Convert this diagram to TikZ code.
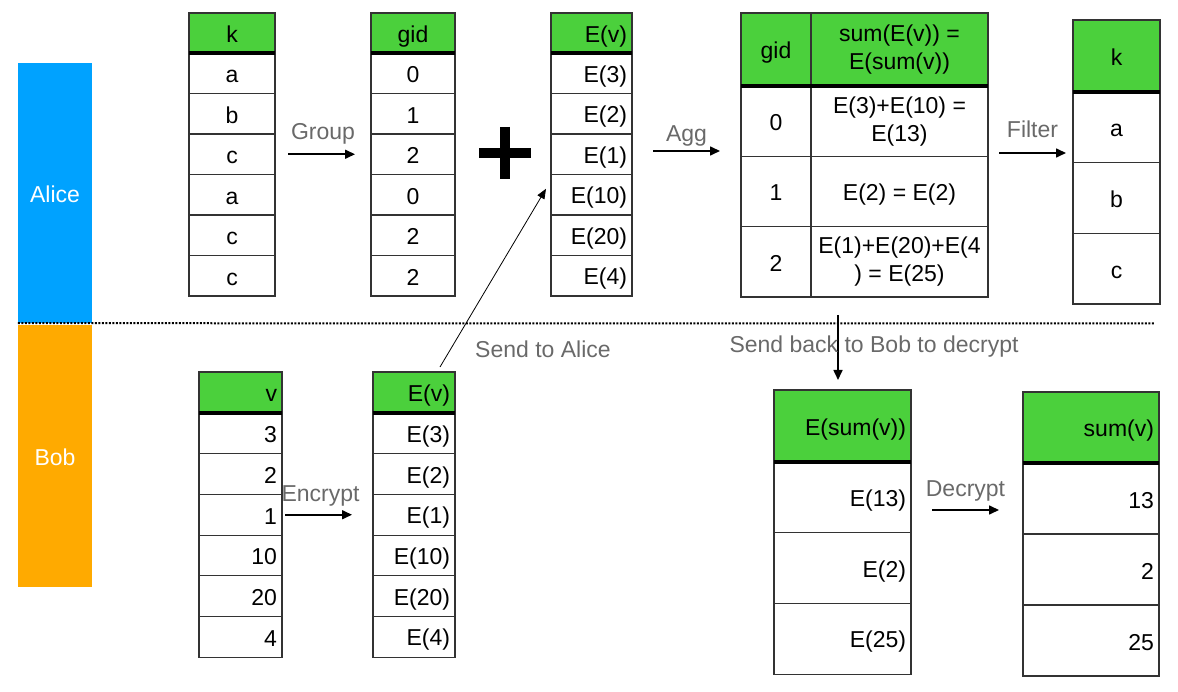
\documentclass[tikz,border=0pt]{standalone}
\usepackage{fontspec}
\setmainfont{Liberation Sans}
\usetikzlibrary{positioning,arrows.meta}
\definecolor{alicebar}{RGB}{0,162,255}
\definecolor{bobbar}{RGB}{255,170,0}
\definecolor{hdrgreen}{RGB}{75,208,60}
\definecolor{lblgray}{RGB}{105,105,105}
\newcommand{\tabfont}{\fontsize{23}{28}\selectfont}
\newcommand{\cellstrut}{\rule[-4pt]{0pt}{27pt}}
\tikzset{
  cell/.style={draw=black!80, line width=1.2pt, fill=white, inner sep=0pt, outer sep=0pt, font=\tabfont, execute at begin node=\cellstrut},
  hdr/.style={cell, fill=hdrgreen},
  rgt/.style={text width=#1, align=right, inner xsep=5pt},
  hdrline/.style={line width=3.2pt},
  flow/.style={-{Triangle[length=10pt,width=9pt]}, line width=1.6pt},
  send/.style={-{Triangle[length=10pt,width=8pt]}, line width=0.8pt},
  lbl/.style={text=lblgray, font=\tabfont},
  party/.style={minimum width=74pt, text=white, font=\tabfont, inner sep=0pt, execute at begin node=\cellstrut},
  divider/.style={line width=2pt, dash pattern=on 2pt off 1.5pt},
}
\begin{document}
\begin{tikzpicture}[x=1pt,y=-1pt]
  \useasboundingbox (0,0) rectangle (1178,692);
  % parties
  \node[party, fill=alicebar, minimum height=260pt] (alice) at (55,193) {Alice};
  \node[party, fill=bobbar, minimum height=262pt] (bob) at (55,456) {Bob};
  \draw[divider] (alice.south west) -- (1155,323.5);

  % Alice: k
  \node[hdr, minimum width=86pt, minimum height=40pt] (key0) at (232,33) {k};
  \foreach \t [count=\i, remember=\i as \j (initially 0)] in {a,b,c,a,c,c}
    \node[cell, minimum width=86pt, minimum height=40.5pt, below=0pt of key\j] (key\i) {\t};
  \draw[hdrline] (key0.south west) -- (key0.south east);

  % Alice: gid
  \node[hdr, minimum width=84pt, minimum height=40pt] (grp0) at (413,33) {gid};
  \foreach \t [count=\i, remember=\i as \j (initially 0)] in {0,1,2,0,2,2}
    \node[cell, minimum width=84pt, minimum height=40.5pt, below=0pt of grp\j] (grp\i) {\t};
  \draw[hdrline] (grp0.south west) -- (grp0.south east);

  \draw[flow, shorten <=13pt, shorten >=16pt] (key3) -- node[lbl, yshift=20pt] {Group} (grp3);

  % plus
  \coordinate (plus) at (505,153);
  \draw[line width=10.5pt] (plus) ++(-26,0) -- ++(52,0);
  \draw[line width=10.5pt] (plus) ++(0,-26) -- ++(0,52);

  % Alice: E(v)
  \node[hdr, rgt=71pt, minimum height=40pt] (encA0) at (591.5,33) {E(v)};
  \foreach \t [count=\i, remember=\i as \j (initially 0)] in {E(3),E(2),E(1),E(10),E(20),E(4)}
    \node[cell, rgt=71pt, minimum height=40.5pt, below=0pt of encA\j] (encA\i) {\t};
  \draw[hdrline] (encA0.south west) -- (encA0.south east);

  \coordinate (agg0) at (653,151);
  \coordinate (agg1) at (720,151);
  \draw[flow] (agg0) -- node[lbl, yshift=15pt] {Agg} (agg1);

  % Alice: aggregate
  \node[hdr, minimum width=70pt, minimum height=73pt] (agid0) at (776,49.5) {gid};
  \node[hdr, minimum width=177pt, minimum height=73pt, align=center, right=0pt of agid0] (asum0) {sum(E(v)) =\\E(sum(v))};
  \foreach \g/\s [count=\i, remember=\i as \j (initially 0)] in {0/{E(3)+E(10) =\\E(13)}, 1/{E(2) = E(2)}, 2/{E(1)+E(20)+E(4\\) = E(25)}} {
    \node[cell, minimum width=70pt, minimum height=70.33pt, below=0pt of agid\j] (agid\i) {\g};
    \node[cell, minimum width=177pt, minimum height=70.33pt, align=center, right=0pt of agid\i] (asum\i) {\s};
  }
  \draw[hdrline] (agid0.south west) -- (asum0.south east);

  \coordinate (flt0) at (999,153);
  \coordinate (flt1) at (1066,153);
  \draw[flow] (flt0) -- node[lbl, yshift=24pt] {Filter} (flt1);

  % Alice: filtered k
  \node[hdr, minimum width=87pt, minimum height=72pt] (keep0) at (1116.5,56) {k};
  \foreach \t [count=\i, remember=\i as \j (initially 0)] in {a,b,c}
    \node[cell, minimum width=87pt, minimum height=70.7pt, below=0pt of keep\j] (keep\i) {\t};
  \draw[hdrline] (keep0.south west) -- (keep0.south east);

  % Bob: v
  \node[hdr, rgt=73pt, minimum height=41pt] (val0) at (240.5,392.5) {v};
  \foreach \t [count=\i, remember=\i as \j (initially 0)] in {3,2,1,10,20,4}
    \node[cell, rgt=73pt, minimum height=40.7pt, below=0pt of val\j] (val\i) {\t};
  \draw[hdrline] (val0.south west) -- (val0.south east);

  % Bob: E(v)
  \node[hdr, rgt=72pt, minimum height=41pt] (encB0) at (414,392.5) {E(v)};
  \foreach \t [count=\i, remember=\i as \j (initially 0)] in {E(3),E(2),E(1),E(10),E(20),E(4)}
    \node[cell, rgt=72pt, minimum height=40.7pt, below=0pt of encB\j] (encB\i) {\t};
  \draw[hdrline] (encB0.south west) -- (encB0.south east);

  \draw[flow, shorten <=3pt, shorten >=21pt] (val3) -- node[lbl, xshift=-7pt, yshift=19pt] {Encrypt} (encB3);

  \coordinate (snd) at (440,367);
  \draw[send] (snd) -- ([xshift=-5pt,yshift=6pt]encA4.west);
  \node[lbl] (sndlbl) at (543,349) {Send to Alice};

  % Bob: E(sum(v))
  \node[hdr, rgt=127pt, minimum height=72pt] (esum0) at (842.5,426) {E(sum(v))};
  \foreach \t [count=\i, remember=\i as \j (initially 0)] in {E(13),E(2),E(25)}
    \node[cell, rgt=127pt, minimum height=70.7pt, below=0pt of esum\j] (esum\i) {\t};
  \draw[hdrline] (esum0.south west) -- (esum0.south east);

  \coordinate (back) at (838,315);
  \draw[flow, shorten >=10pt] (back) -- (back |- esum0.north);
  \node[lbl] (backlbl) at (874,347) {Send back to Bob to decrypt};

  \coordinate (dec0) at (932,510);
  \coordinate (dec1) at (999,510);
  \draw[flow] (dec0) -- node[lbl, yshift=19pt] {Decrypt} (dec1);

  % Bob: sum(v)
  \node[hdr, rgt=126pt, minimum height=71pt] (plain0) at (1091,427.5) {sum(v)};
  \foreach \t [count=\i, remember=\i as \j (initially 0)] in {13,2,25}
    \node[cell, rgt=126pt, minimum height=71pt, below=0pt of plain\j] (plain\i) {\t};
  \draw[hdrline] (plain0.south west) -- (plain0.south east);
\end{tikzpicture}
\end{document}
